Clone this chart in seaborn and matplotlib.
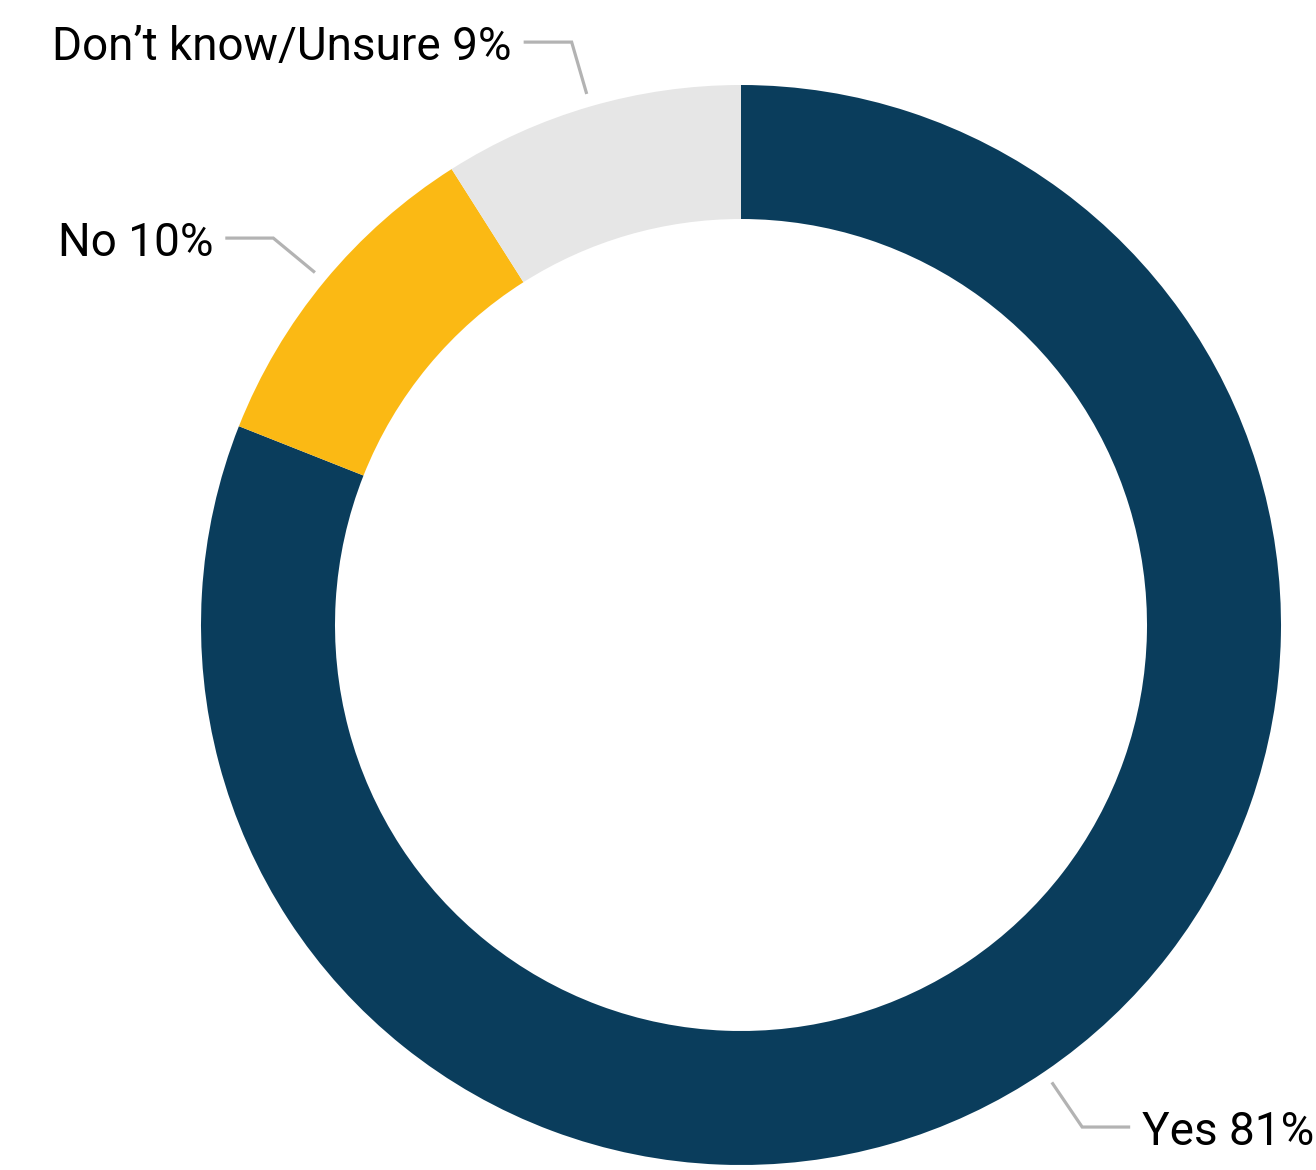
import numpy as np
import matplotlib
matplotlib.use("Agg")
import matplotlib.pyplot as plt
import seaborn as sns

labels = ["Yes", "No", "Don\u2019t know/Unsure"]
values = [81, 10, 9]
colors = ["#0a3d5c", "#fbb914", "#e6e6e6"]

sns.set_theme(style="white")
plt.rcParams["font.family"] = ["Roboto", "DejaVu Sans"]

W, H = 1316, 1170
fig = plt.figure(figsize=(W / 100, H / 100), dpi=100)
ax = fig.add_axes([0, 0, 1, 1])
ax.set_xlim(0, W)
ax.set_ylim(0, H)
ax.set_aspect("equal")
ax.axis("off")

cx, cy, R, ring = 741, H - 625, 540, 134
wedges, _ = ax.pie(values, colors=colors, startangle=90, counterclock=False,
                   radius=R, center=(cx, cy),
                   wedgeprops=dict(width=ring, linewidth=0))
ax.set_xlim(0, W)
ax.set_ylim(0, H)

line_color = "#b3b3b3"
for w, lab, val in zip(wedges, labels, values):
    ang = np.deg2rad((w.theta1 + w.theta2) / 2)
    dx, dy = np.cos(ang), np.sin(ang)
    x0, y0 = cx + (R + 13) * dx, cy + (R + 13) * dy
    x1, y1 = cx + (R + 67) * dx, cy + (R + 67) * dy
    side = 1 if dx > 0 else -1
    x2 = x1 + side * 48
    ax.plot([x0, x1, x2], [y0, y1, y1], color=line_color, lw=2.3,
            solid_joinstyle="miter", solid_capstyle="butt")
    ax.text(x2 + side * 12, y1, f"{lab} {val}%", fontsize=33,
            ha="left" if side > 0 else "right", va="center_baseline",
            color="#000000")

fig.savefig("out.png", dpi=100)
